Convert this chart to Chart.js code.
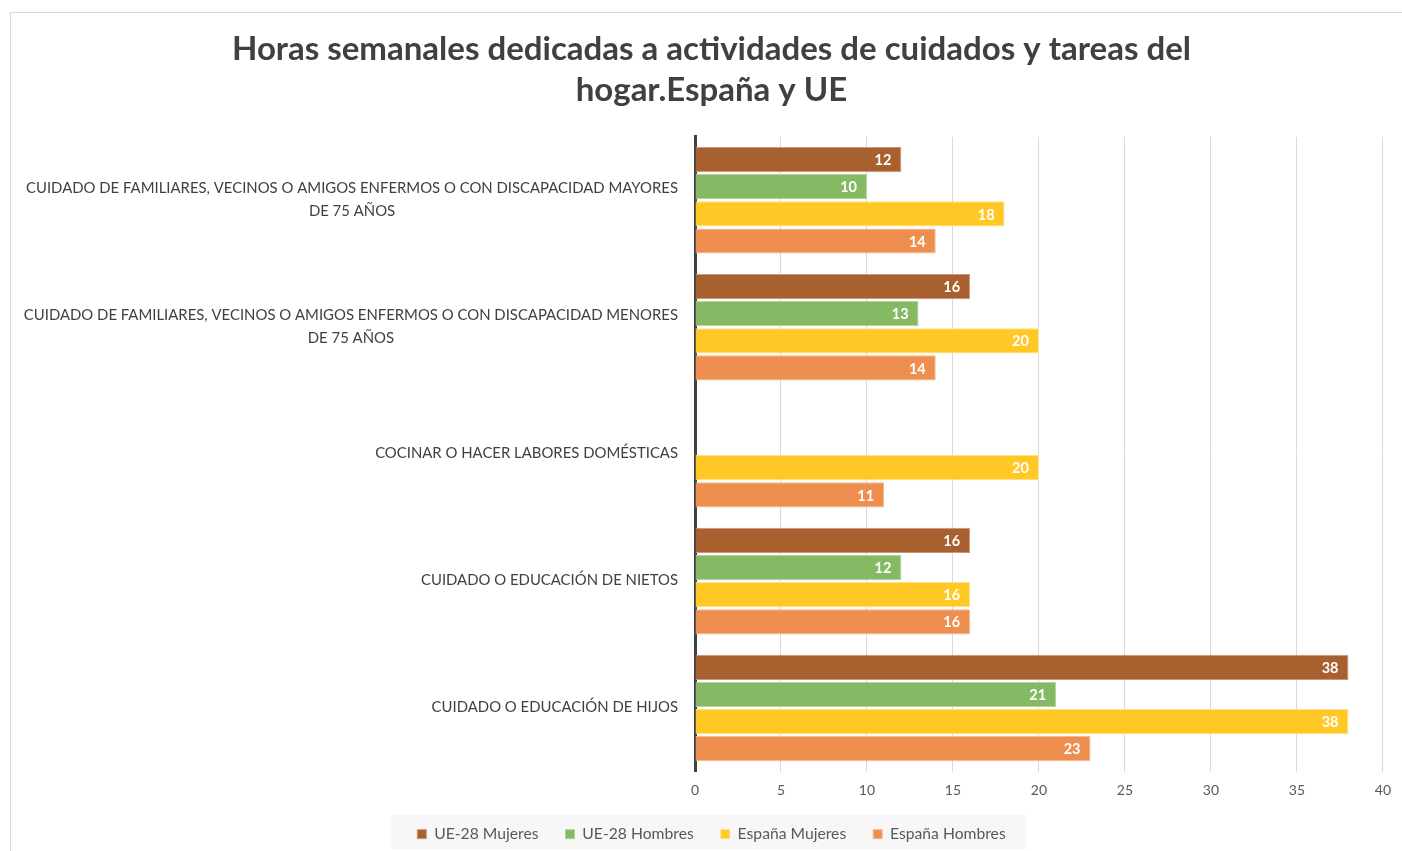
<!DOCTYPE html>
<html>
<head>
<meta charset="utf-8">
<script src="https://cdn.jsdelivr.net/npm/chart.js@4.4.1/dist/chart.umd.min.js"></script>
<style>
body{margin:0;background:#fff;}
#frame{position:absolute;left:10px;top:12px;width:1400px;height:850px;border:1px solid #d9d9d9;}
#wrap{position:absolute;left:0;top:0;}
</style>
</head>
<body>
<div id="frame"></div>
<div id="wrap"><canvas id="myChart" width="1402" height="851"></canvas></div>
<script>

const categories = [
	["CUIDADO DE FAMILIARES, VECINOS O AMIGOS ENFERMOS O CON DISCAPACIDAD MAYORES", "DE 75 AÑOS"],
	["CUIDADO DE FAMILIARES, VECINOS O AMIGOS ENFERMOS O CON DISCAPACIDAD MENORES", "DE 75 AÑOS"],
	"COCINAR O HACER LABORES DOMÉSTICAS",
	"CUIDADO O EDUCACIÓN DE NIETOS",
	"CUIDADO O EDUCACIÓN DE HIJOS"
];
const seriesNames = ["UE-28 Mujeres", "UE-28 Hombres", "España Mujeres", "España Hombres"];
const ueMujeres = [12, 16, null, 16, 38];
const ueHombres = [10, 13, null, 12, 21];
const espMujeres = [18, 20, 20, 16, 38];
const espHombres = [14, 14, 11, 16, 23];
const xMin = 0;
const xMax = 40;
const xStep = 5;

const colors = ["#a9602f", "#86b963", "#ffc825", "#ee8e4f"];
const borders = ["#c9967a", "#b3d49c", "#ffe08c", "#f5bb96"];
const fontName = "Lato, 'Open Sans', sans-serif";

function makeDatasets(){
	let values = [ueMujeres, ueHombres, espMujeres, espHombres];
	let datasets = [];
	for(let i = 0; i < values.length; i++){
		datasets.push({
			label: seriesNames[i],
			data: values[i],
			backgroundColor: colors[i],
			borderColor: borders[i],
			borderWidth: 1,
			categoryPercentage: 0.855,
			barPercentage: 0.93
		});
	}
	return datasets;
}

// white value labels at the end of each bar
const valueLabels = {
	id: "valueLabels",
	afterDatasetsDraw(chart){
		let ctx = chart.ctx;
		ctx.save();
		ctx.font = "bold 14.5px " + fontName;
		ctx.fillStyle = "#ffffff";
		ctx.textAlign = "right";
		ctx.textBaseline = "middle";
		chart.data.datasets.forEach((ds, i) => {
			let meta = chart.getDatasetMeta(i);
			meta.data.forEach((bar, j) => {
				if(ds.data[j] == null) return;
				ctx.fillText(ds.data[j], bar.x - 10, bar.y + 1);
			});
		});
		ctx.restore();
	}
};

// category labels: first line right aligned, next lines centred under it
const categoryLabels = {
	id: "categoryLabels",
	afterDraw(chart){
		let ctx = chart.ctx;
		let scale = chart.scales.y;
		let right = scale.right - 17;
		ctx.save();
		ctx.font = "14.9px " + fontName;
		ctx.fillStyle = "#404040";
		ctx.textAlign = "center";
		ctx.textBaseline = "middle";
		for(let i = 0; i < categories.length; i++){
			let lines = Array.isArray(categories[i]) ? categories[i] : [categories[i]];
			let widest = 0;
			lines.forEach(l => { widest = Math.max(widest, ctx.measureText(l).width); });
			let cy = scale.getPixelForTick(i) - (lines.length - 1) * 23 / 2 - 1;
			for(let k = 0; k < lines.length; k++){
				ctx.fillText(lines[k], right - widest / 2, cy + k * 23);
			}
		}
		ctx.restore();
	}
};

// light grey band behind the legend, legend pulled up a little
const legendBand = {
	id: "legendBand",
	afterLayout(chart){
		chart.legend.top -= 11;
		chart.legend.bottom -= 11;
	},
	beforeDraw(chart){
		let boxes = chart.legend.legendHitBoxes;
		if(!boxes || !boxes.length) return;
		let left = boxes[0].left - 26;
		let last = boxes[boxes.length - 1];
		let right = last.left + last.width + 20;
		let ctx = chart.ctx;
		ctx.save();
		ctx.fillStyle = "#f7f7f7";
		ctx.fillRect(left, 815, right - left, 34);
		ctx.restore();
	}
};

let ctx = document.getElementById("myChart").getContext("2d");
let myChart = new Chart(ctx, {
	type: "bar",
	data: {
		labels: categories,
		datasets: makeDatasets()
	},
	plugins: [legendBand, valueLabels, categoryLabels],
	options: {
		indexAxis: "y",
		responsive: false,
		animation: false,
		layout: {padding: {top: 29, right: 9, bottom: -12, left: 30}},
		scales: {
			x: {
				min: xMin,
				max: xMax,
				ticks: {stepSize: xStep, color: "#595959", padding: 11, font: {family: fontName, size: 14}},
				grid: {color: "#d9d9d9", drawTicks: false},
				border: {display: false}
			},
			y: {
				ticks: {display: false},
				grid: {display: false},
				border: {color: "#404040", width: 3},
				afterFit(scale){ scale.width = 665; }
			}
		},
		plugins: {
			title: {
				display: true,
				text: ["Horas semanales dedicadas a actividades de cuidados y tareas del", "hogar.España y UE"],
				color: "#404040",
				font: {family: fontName, size: 33, weight: "bold", lineHeight: 1.24},
				padding: {top: 0, bottom: 26}
			},
			legend: {
				position: "bottom",
				labels: {
					color: "#595959",
					boxWidth: 9,
					boxHeight: 9,
					padding: 27,
					font: {family: fontName, size: 15.7}
				}
			},
			tooltip: {enabled: false}
		}
	}
});
</script>
</body>
</html>
